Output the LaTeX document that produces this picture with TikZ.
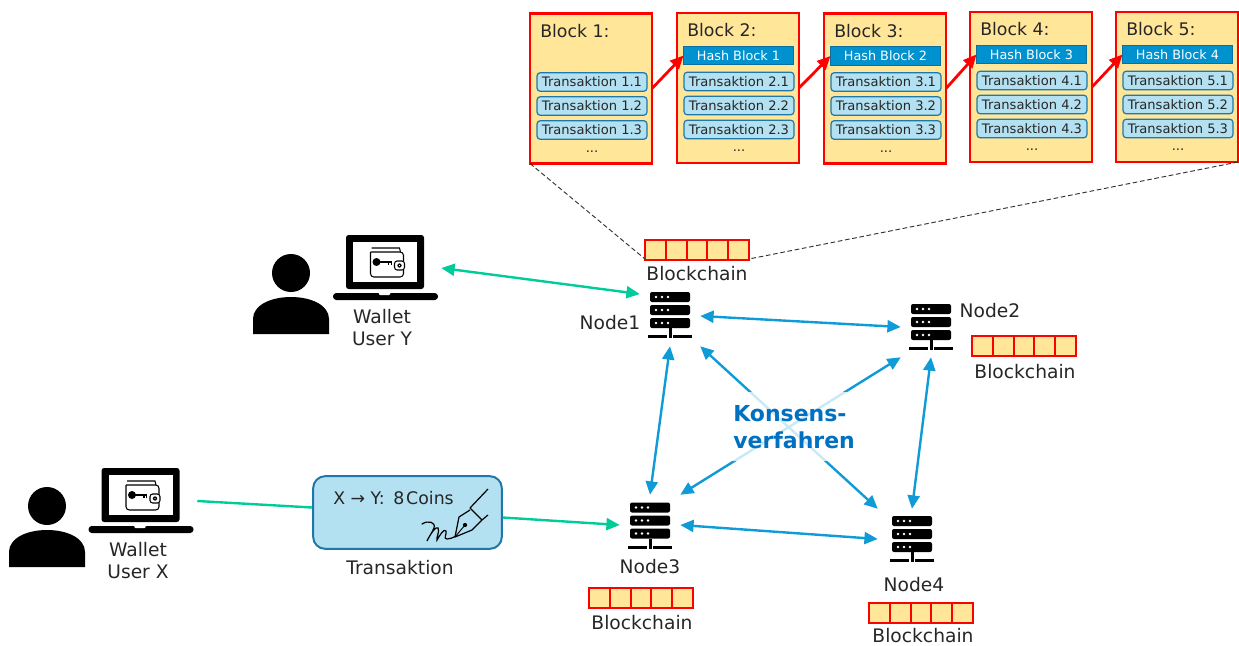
\documentclass[tikz,border=0pt]{standalone}
\usepackage{fontspec}
\setmainfont{DejaVu Sans}
\usetikzlibrary{arrows.meta}
\definecolor{blockfill}{HTML}{FFE699}
\definecolor{txfill}{HTML}{B4E1F2}
\definecolor{txline}{HTML}{1F78A8}
\definecolor{hashfill}{HTML}{0091CF}
\definecolor{hashline}{HTML}{0B6FA0}
\definecolor{netblue}{HTML}{0F9BD7}
\definecolor{netgreen}{HTML}{00CC99}
\definecolor{konsens}{HTML}{0070C0}
\tikzset{
  x=.75pt,y=-.75pt,
  >={Triangle[length=10pt,width=9pt]},
  lbl/.style={inner sep=0pt,font=\fontsize{14}{16.5}\selectfont,text=black!85,align=center},
  blockbox/.style={draw=red,line width=2pt,fill=blockfill,minimum width=91.5pt,minimum height=112.5pt,inner sep=0pt,outer sep=0pt},
  blocktitle/.style={inner sep=0pt,anchor=west,font=\fontsize{13}{15}\selectfont,text=black!85},
  txbox/.style={draw=txline,line width=.9pt,fill=txfill,rounded corners=2.5pt,minimum width=82.5pt,minimum height=14pt,inner sep=0pt,font=\fontsize{9.8}{11}\selectfont,text=black!85},
  hashbox/.style={draw=hashline,line width=.9pt,fill=hashfill,minimum width=82.5pt,minimum height=14pt,inner sep=0pt,outer sep=0pt,font=\fontsize{9.6}{11}\selectfont,text=white},
  dotslbl/.style={inner sep=0pt,font=\fontsize{9.8}{11}\selectfont,text=black!85},
  hitbox/.style={inner sep=0pt,minimum width=45pt,minimum height=45pt},
  laptopbox/.style={inner sep=0pt,minimum width=84pt,minimum height=50pt},
  bluelink/.style={line width=1.8pt,draw=netblue,<->},
  greenlink/.style={line width=1.8pt,draw=netgreen},
  redlink/.style={line width=2.1pt,draw=red,->},
  zoomline/.style={dashed,dash pattern=on 3.5pt off 2pt,line width=.7pt,draw=black!80},
  server/.pic={
    \foreach \yy in {-23,-10,3}{
      \fill[black,rounded corners=1.5pt] (-20,\yy) rectangle (20,\yy+10);
      \foreach \xx in {-14,-8,-2}{\fill[white] (\xx,\yy+5) circle (1pt);}
    }
    \fill[black] (-1.5,13) rectangle (1.5,20);
    \fill[black] (-22,20) rectangle (-3,23);
    \fill[black] (-1.5,20) rectangle (1.5,23);
    \fill[black] (3,20) rectangle (22,23);
  },
  laptop/.pic={
    \fill[black,rounded corners=2pt] (-39.5,-33) rectangle (38.5,21);
    \fill[white] (-32.5,-26) rectangle (31.5,14);
    \fill[black,rounded corners=2.5pt] (-52.5,25) rectangle (52.5,32);
    \fill[white,rounded corners=1pt] (-7,24.5) rectangle (5,27);
    \draw[black,line width=.8pt,rounded corners=2.5pt] (-15,-16) -- (-15,9) -- (18,9) -- (18,2);
    \draw[black,line width=.8pt,rounded corners=2.5pt] (18,-7) -- (18,-16) -- (-15,-16);
    \draw[black,line width=.8pt] (-14,-20) -- (14,-20) -- (15,-16);
    \draw[black,line width=.8pt,fill=white,rounded corners=2pt] (19,-7) -- (9,-7) -- (9,2) -- (19,2) -- cycle;
    \fill[black] (14,-2.5) circle (1.6pt);
    \fill[white] (14,-2.5) circle (.5pt);
    \fill[black] (-9,-6) circle (3pt);
    \fill[black] (-7,-7) rectangle (6,-5);
    \fill[black] (2,-5) rectangle (3.5,-3);
    \fill[black] (5,-5) rectangle (6,-3);
  },
  person/.pic={
    \fill[black] (0,-24) circle (14.25pt);
    \fill[black] (-38,37) -- (-38,22) .. controls (-38,8) and (-20,0) .. (0,0)
       .. controls (20,0) and (38,8) .. (38,22) -- (38,37) -- cycle;
  },
  chain/.pic={
    \fill[blockfill] (0,0) rectangle (104,20);
    \draw[red,line width=1.6pt] (0,0) rectangle (104,20);
    \foreach \xx in {20.8,41.6,62.4,83.2}{\draw[red,line width=1.6pt] (\xx,0) -- (\xx,20);}
  },
}
\begin{document}
\begin{tikzpicture}
\useasboundingbox (0,0) rectangle (1239,646);

% server nodes and icons
\node[hitbox] (n1) at (670,316) {};
\node[hitbox] (n2) at (931,327) {};
\node[hitbox] (n3) at (650,525) {};
\node[hitbox,minimum width=51pt] (n4) at (912,539) {};
\pic at (670,315) {server};
\pic at (931,327) {server};
\pic at (650,525.5) {server};
\pic at (912,539) {server};

% users
\pic at (291,297) {person};
\pic at (47,530) {person};
\pic at (385.5,268) {laptop};
\pic at (141,501) {laptop};
\node[laptopbox] (ly) at (385,268) {};
\node[laptopbox] (lx) at (141,501) {};

% transaction
\node[draw=txline,line width=1.5pt,fill=txfill,rounded corners=9pt,minimum width=141.5pt,minimum height=54.5pt,inner sep=0pt] (tx) at (407.5,512.5) {};
\node[inner sep=0pt,anchor=west,font=\fontsize{13}{15}\selectfont,text=black!85] (txt) at (333,498) {X → Y:\hspace{.5em}8\hspace{.1em}Coins};
\draw[black,line width=.9pt] (488,489) -- (470,508);
\draw[black,line width=.9pt] (470,508) -- (482,520) (482,520) -- (488,515);
\draw[black,line width=.9pt,line join=round] (470,510) -- (459,517) -- (455,537) -- (472,530) -- (482,520);
\draw[black,line width=.7pt] (455,537) -- (465,525);
\fill[black] (465,525) circle (1.6pt);
\draw[black,line width=.9pt,line cap=round] (422,524) .. controls (428,520) and (436,522) .. (434,528)
  .. controls (432,533) and (428,538) .. (427,541) .. controls (431,533) and (436,526) .. (438,528)
  .. controls (440,531) and (436,538) .. (437,540) .. controls (440,535) and (444,528) .. (446,531)
  .. controls (447,534) and (443,539) .. (447,539) .. controls (450,539) and (452,538) .. (456,536);

% chains
\pic at (645,240) {chain};
\pic at (972,336) {chain};
\pic at (589,588) {chain};
\pic at (869,603) {chain};
\coordinate (chainTL) at (645,259);
\coordinate (chainTR) at (749,259);

% blocks
\foreach \i/\x/\dy in {1/530/.5,2/677/0,3/824/.5,4/970/-1,5/1116/-1}{
  \node[blockbox,anchor=north west] (b\i) at (\x,13+\dy) {};
  \node[blocktitle] at (\x+10,30.5+\dy) {Block \i:};
  \foreach \k/\yy in {1/81.5,2/105.5,3/129.5}{
    \node[txbox] (t\i\k) at (\x+62,\yy+\dy) {Transaktion \i.\k};
  }
  \node[dotslbl] at (\x+62,151+\dy) {...};
}
\foreach \i/\x/\dy/\p in {2/677/0/1,3/824/.5/2,4/970/-1/3,5/1116/-1/4}{
  \node[hashbox] (h\i) at (\x+61.5,55.5+\dy) {Hash Block \p};
}
\draw[redlink] (b1.east) -- (h2.west);
\draw[redlink] (b2.east) -- (h3.west);
\draw[redlink] (b3.east) -- (h4.west);
\draw[redlink] (b4.east) -- (h5.west);
\draw[zoomline] (b1.south west) -- (chainTL);
\draw[zoomline] (b5.south east) -- (chainTR);

% connectors
\draw[greenlink,<->] (ly.east) -- (n1.144);
\draw[greenlink] (lx.east) -- (tx.177.3);
\draw[greenlink,->] (tx.-3.9) -- (n3.west);
\draw[bluelink] (n1.east) -- (n2.west);
\draw[bluelink] (n1.south) -- (n3.north);
\draw[bluelink] (n1.south east) -- (n4.north west);
\draw[bluelink] (n2.south west) -- (n3.north east);
\draw[bluelink] (n2.south) -- (n4.north);
\draw[bluelink] (n3.east) -- (n4.west);

% consensus label
\node[fill=white,fill opacity=.78,minimum width=120pt,minimum height=52pt,inner sep=0pt] (kbox) at (797.5,426.5) {};
\node[inner sep=0pt,anchor=west,align=left,text=konsens,font=\fontsize{16.5}{20.2}\selectfont\bfseries] (k) at (733,427.5) {Konsens-\\verfahren};

% labels
\node[lbl] (l1) at (697,274) {Blockchain};
\node[lbl] (l2) at (1025,372) {Blockchain};
\node[lbl] (l3) at (642,623) {Blockchain};
\node[lbl] (l4) at (923,636) {Blockchain};
\node[lbl] (m1) at (610,323) {Node1};
\node[lbl] (m2) at (990,311) {Node2};
\node[lbl] (m3) at (650,567) {Node3};
\node[lbl] (m4) at (914,585) {Node4};
\node[lbl] (wy) at (382,328) {Wallet\\User Y};
\node[lbl] (wx) at (138,560.5) {Wallet\\User X};
\node[lbl] (ttl) at (400,568) {Transaktion};
\end{tikzpicture}
\end{document}
